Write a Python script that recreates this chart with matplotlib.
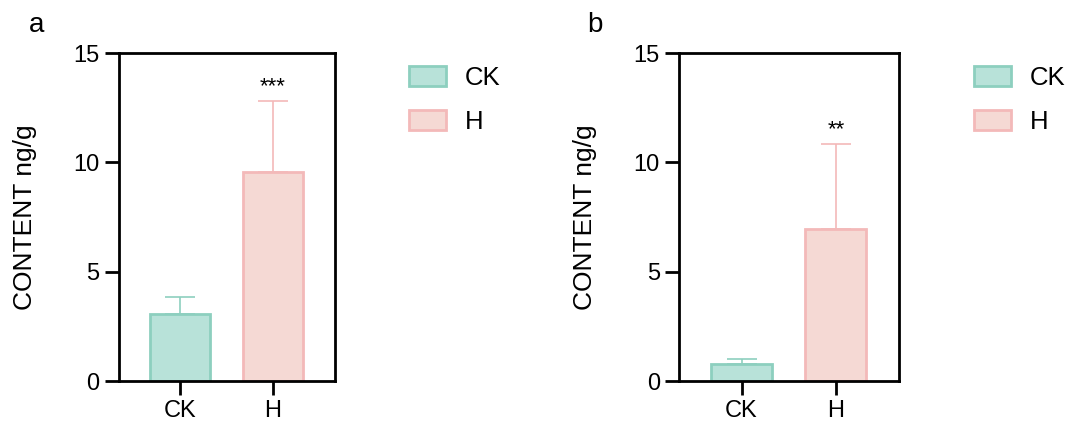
import numpy as np
import matplotlib
matplotlib.use('Agg')
import matplotlib.pyplot as plt
from matplotlib.patches import Patch

plt.rcParams['font.family'] = ['Liberation Sans', 'DejaVu Sans']

groups = ['CK', 'H']
panel_labels = ['a', 'b']
means_a = [3.07, 9.57]
errs_a = [0.78, 3.26]
means_b = [0.78, 6.96]
errs_b = [0.22, 3.90]
stars_a = '***'
stars_b = '**'

fills = ['#b8e2d9', '#f5d9d4']
edges = ['#8dcfbf', '#f3b9b9']

fig = plt.figure(figsize=(10.73, 4.32), dpi=100)
axes_pos = [[0.111, 0.118, 0.201, 0.759], [0.633, 0.118, 0.205, 0.759]]
data = [(means_a, errs_a, stars_a), (means_b, errs_b, stars_b)]
x = np.arange(len(groups))

for i, (pos, (m, e, s)) in enumerate(zip(axes_pos, data)):
    ax = fig.add_axes(pos)
    for j in range(len(groups)):
        ax.bar(x[j], m[j], width=0.645, color=fills[j], edgecolor=edges[j],
               linewidth=2, zorder=2)
        ax.errorbar(x[j], m[j], yerr=[[0], [e[j]]], fmt='none', ecolor=edges[j],
                    elinewidth=1.2, capsize=10.8, capthick=1.2, zorder=1)
    top = m[1] + e[1]
    ax.text(x[1], top + 0.62, s, ha='center', va='center', fontsize=16)
    ax.set_ylim(0, 15)
    ax.set_xlim(-0.66, 1.67)
    ax.set_yticks([0, 5, 10, 15])
    ax.set_xticks(x)
    ax.set_xticklabels(groups)
    for sp in ax.spines.values():
        sp.set_linewidth(2)
    ax.tick_params(axis='both', width=2, length=10, labelsize=17, pad=4)
    ax.set_ylabel('CONTENT ng/g', fontsize=19, labelpad=26)
    ax.text(-0.42, 1.086, panel_labels[i], transform=ax.transAxes, fontsize=20,
            ha='left', va='center')
    handles = [Patch(facecolor=fills[k], edgecolor=edges[k], linewidth=2,
                     label=groups[k]) for k in range(len(groups))]
    ax.legend(handles=handles, loc='upper left', bbox_to_anchor=(1.236, 1.031),
              frameon=False, fontsize=18.5, handlelength=1.45, handleheight=0.82,
              handletextpad=0.72, labelspacing=0.79)

fig.savefig('out.png', dpi=100)
